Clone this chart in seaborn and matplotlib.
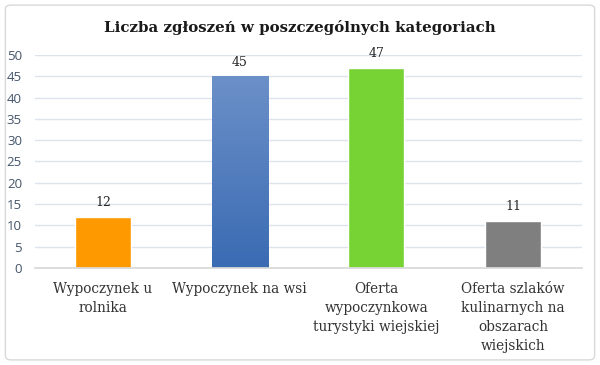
import matplotlib
matplotlib.use("Agg")
import matplotlib.pyplot as plt
import seaborn as sns
import numpy as np
import pandas as pd
from matplotlib.patches import FancyBboxPatch
from matplotlib.colors import LinearSegmentedColormap

categories = ["Wypoczynek u\nrolnika", "Wypoczynek na wsi",
              "Oferta\nwypoczynkowa\nturystyki wiejskiej",
              "Oferta szlaków\nkulinarnych na\nobszarach\nwiejskich"]
values = [12, 45, 47, 11]
colors = ["#FF9900", "#4A78BE", "#77D233", "#7F7F7F"]
title = "Liczba zgłoszeń w poszczególnych kategoriach"
yticks = [0, 5, 10, 15, 20, 25, 30, 35, 40, 45, 50]

sns.set_theme(style="white")
plt.rcParams['font.family'] = ['DejaVu Serif']

df = pd.DataFrame({"cat": categories, "val": values})

fig = plt.figure(figsize=(6.0, 3.65), dpi=100)
fig.patch.set_facecolor("white")
border = FancyBboxPatch((0.009, 0.014), 0.982, 0.972,
                        boxstyle="round,pad=0,rounding_size=0.01",
                        transform=fig.transFigure, facecolor="none",
                        edgecolor="#D9D9D9", linewidth=1.0, zorder=-1)
fig.patches.append(border)

ax = fig.add_axes([0.0575, 0.2658, 0.9117, 0.5836])
ax.set_facecolor("none")
sns.barplot(data=df, x="cat", y="val", hue="cat", palette=colors,
            width=0.41, legend=False, ax=ax, saturation=1, zorder=3)

# gradient on the blue bar
bars = ax.patches
blue = bars[1]
bx, by = blue.get_x(), blue.get_y()
bw, bh = blue.get_width(), blue.get_height()
grad = np.linspace(0, 1, 256).reshape(-1, 1)
cmap = LinearSegmentedColormap.from_list("g", ["#3A6BB3", "#6C90C8"])
im = ax.imshow(grad, cmap=cmap, origin="lower", aspect="auto",
               extent=[bx, bx + bw, by, by + bh], zorder=4)
im.set_clip_path(blue)

ax.set_ylim(0, 50)
ax.set_xlim(-0.5, 3.5)
ax.set_yticks(yticks)
ax.yaxis.grid(True, color="#DCE3EC", linewidth=1.0, zorder=0)
ax.set_axisbelow(True)
for s in ["top", "right", "left"]:
    ax.spines[s].set_visible(False)
ax.spines["bottom"].set_color("#D9D9D9")
ax.spines["bottom"].set_zorder(5)

ax.set_xlabel("")
ax.set_ylabel("")
ax.tick_params(axis="y", length=0, pad=9, labelsize=9.5, labelcolor="#44546A")
for lab in ax.get_yticklabels():
    lab.set_fontfamily("Open Sans")
ax.tick_params(axis="x", which="major", length=0, pad=10, labelsize=9.8,
               labelcolor="#333333")
ax.set_xticks([-0.5, 0.5, 1.5, 2.5, 3.5], minor=True)
ax.tick_params(axis="x", which="minor", length=5, color="#D9D9D9", width=1)
for lab in ax.get_xticklabels():
    lab.set_linespacing(1.45)

for i, v in enumerate(values):
    ax.text(i, v + 1.8, str(v), ha="center", va="bottom", fontsize=9,
            color="#262626")

fig.text(0.5, 0.925, title, ha="center", va="center", fontsize=10.8,
         fontweight="bold", color="#1a1a1a")

fig.savefig("out.png", dpi=100)
